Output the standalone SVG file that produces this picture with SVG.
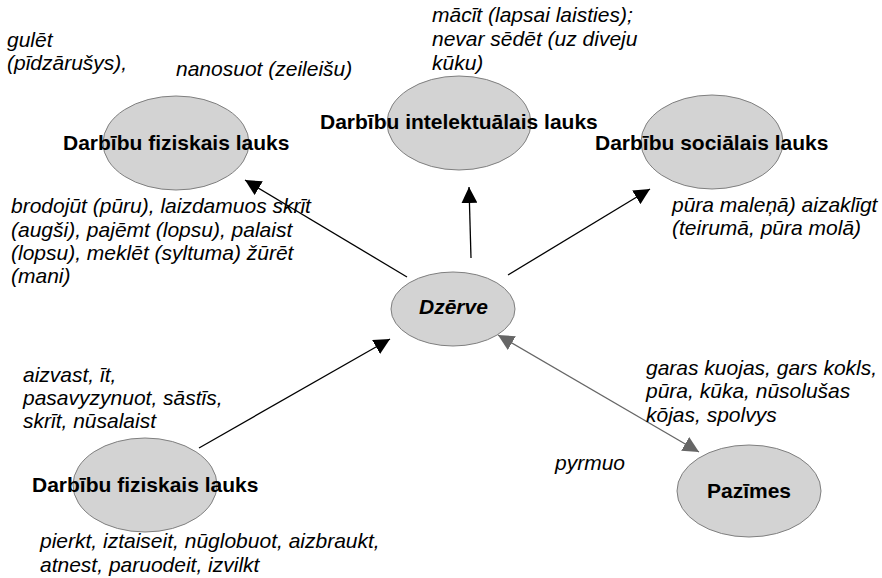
<svg xmlns="http://www.w3.org/2000/svg" width="882" height="578" viewBox="0 0 882 578">
<defs>
<style>
.node{fill:#d3d3d3;stroke:#7f7f7f;stroke-width:1}
.lbl{font-family:"Liberation Sans",Arial,sans-serif;font-size:21px;font-weight:bold;fill:#000}
.it{font-family:"Liberation Sans",Arial,sans-serif;font-size:21px;font-style:italic;fill:#000}
.edge{stroke:#000;stroke-width:1.3;fill:none}
.edge2{stroke:#666;stroke-width:1.3;fill:none}
</style>
<marker id="ah" viewBox="0 0 10 10" refX="10" refY="5" markerWidth="16" markerHeight="16" markerUnits="userSpaceOnUse" orient="auto">
<path d="M0,0 L10,5 L0,10 z" fill="#000"/>
</marker>
<marker id="ahg" viewBox="0 0 10 10" refX="10" refY="5" markerWidth="16" markerHeight="16" markerUnits="userSpaceOnUse" orient="auto-start-reverse">
<path d="M0,0 L10,5 L0,10 z" fill="#666"/>
</marker>
</defs>
<rect width="882" height="578" fill="#fff"/>
<g id="connectors">
<line class="edge" x1="407" y1="277" x2="245" y2="180" marker-end="url(#ah)"/>
<line class="edge" x1="471" y1="258" x2="469" y2="187" marker-end="url(#ah)"/>
<line class="edge" x1="508" y1="275" x2="650" y2="189" marker-end="url(#ah)"/>
<line class="edge" x1="199" y1="448" x2="390" y2="339" marker-end="url(#ah)"/>
<line class="edge2" x1="498" y1="335" x2="699" y2="452" marker-start="url(#ahg)" marker-end="url(#ahg)"/>
</g>
<g id="node-fiz-top">
<ellipse class="node" cx="176" cy="143" rx="73" ry="47"/>
<text class="lbl" x="63" y="150">Darbību fiziskais lauks</text>
</g>
<g id="node-intel">
<ellipse class="node" cx="459" cy="123" rx="72" ry="47"/>
<text class="lbl" x="320" y="129">Darbību intelektuālais lauks</text>
</g>
<g id="node-soc">
<ellipse class="node" cx="712" cy="142" rx="71" ry="47"/>
<text class="lbl" x="595" y="150">Darbību sociālais lauks</text>
</g>
<g id="node-dzerve">
<ellipse class="node" cx="453" cy="309" rx="62" ry="37"/>
<text class="lbl" x="419" y="314" font-style="italic">Dzērve</text>
</g>
<g id="node-fiz-bottom">
<ellipse class="node" cx="145" cy="485" rx="72" ry="47"/>
<text class="lbl" x="32" y="492">Darbību fiziskais lauks</text>
</g>
<g id="node-pazimes">
<ellipse class="node" cx="749" cy="491" rx="72" ry="46"/>
<text class="lbl" x="707" y="498">Pazīmes</text>
</g>
<g id="annotations">
<text class="it" x="7" y="47">gulēt</text>
<text class="it" x="7" y="70">(pīdzārušys),</text>
<text class="it" x="176" y="76">nanosuot (zeileišu)</text>
<text class="it" x="432" y="22">mācīt (lapsai laisties);</text>
<text class="it" x="432" y="46">nevar sēdēt (uz diveju</text>
<text class="it" x="432" y="70">kūku)</text>
<text class="it" x="11" y="213">brodojūt (pūru), laizdamuos skrīt</text>
<text class="it" x="11" y="237">(augši), pajēmt (lopsu), palaist</text>
<text class="it" x="11" y="260">(lopsu), meklēt (syltuma) žūrēt</text>
<text class="it" x="11" y="283">(mani)</text>
<text class="it" x="672" y="212">pūra maleņā) aizaklīgt</text>
<text class="it" x="672" y="235">(teirumā, pūra molā)</text>
<text class="it" x="23" y="382">aizvast, īt,</text>
<text class="it" x="23" y="405">pasavyzynuot, sāstīs,</text>
<text class="it" x="23" y="428">skrīt, nūsalaist</text>
<text class="it" x="646" y="375">garas kuojas, gars kokls,</text>
<text class="it" x="646" y="398">pūra, kūka, nūsolušas</text>
<text class="it" x="646" y="422">kōjas, spolvys</text>
<text class="it" x="555" y="470">pyrmuo</text>
<text class="it" x="40" y="548">pierkt, iztaiseit, nūglobuot, aizbraukt,</text>
<text class="it" x="40" y="572">atnest, paruodeit, izvilkt</text>
</g>
</svg>
